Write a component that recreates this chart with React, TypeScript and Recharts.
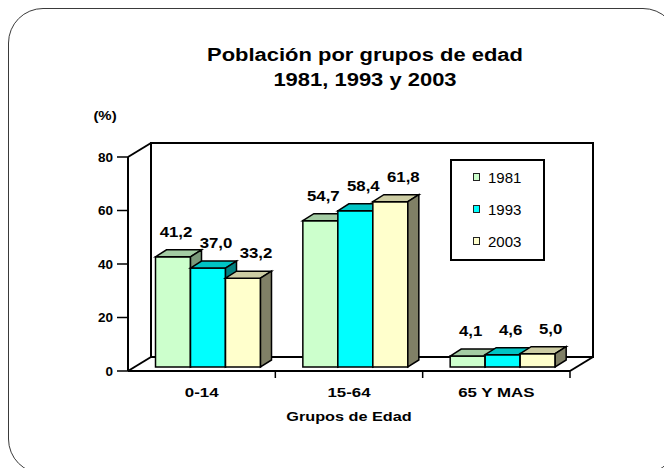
import React from 'react';
import { BarChart, Bar, XAxis, YAxis, Legend, LabelList, ReferenceArea } from 'recharts';

// values (%)
const groups = ['0-14', '15-64', '65 Y MAS'];
const years = ['1981', '1993', '2003'];
const pct1981 = [41.2, 54.7, 4.1];
const pct1993 = [37.0, 58.4, 4.6];
const pct2003 = [33.2, 61.8, 5.0];
const yTicks = [0, 20, 40, 60, 80];

const data = groups.map((g, i) => ({
  grupo: g,
  y1981: pct1981[i],
  y1993: pct1993[i],
  y2003: pct2003[i],
}));

const FONT = '"Liberation Sans", Arial, Helvetica, sans-serif';

const colors: Record<string, { front: string; top: string; side: string }> = {
  y1981: { front: '#CCFFCC', top: '#A3CCA3', side: '#7A997A' },
  y1993: { front: '#00FFFF', top: '#00C4C4', side: '#008080' },
  y2003: { front: '#FFFFCC', top: '#CCCCA3', side: '#808066' },
};

// pseudo 3d offsets
const SHIFT = { x: 6, y: -4 };
const DEPTH = { x: 11, y: -7 };
const WALL = { x: 23, y: -14 };

const fmt = (v: number) => v.toFixed(1).replace('.', ',');

const Box3D = (props: any) => {
  const { x, y, width, height, palette } = props;
  const l = x + SHIFT.x;
  const t = y + SHIFT.y;
  const r = l + width;
  const b = t + height;
  return (
    <g stroke="#000" strokeWidth={1.5} strokeLinejoin="miter">
      <rect x={l} y={t} width={width} height={height} fill={palette.front} />
      <polygon
        points={`${l},${t} ${l + DEPTH.x},${t + DEPTH.y} ${r + DEPTH.x},${t + DEPTH.y} ${r},${t}`}
        fill={palette.top}
      />
      <polygon
        points={`${r},${t} ${r + DEPTH.x},${t + DEPTH.y} ${r + DEPTH.x},${b + DEPTH.y} ${r},${b}`}
        fill={palette.side}
      />
    </g>
  );
};

// back wall + floor drawn from the plot rectangle
const Backdrop = (props: any) => {
  const { x, y, width, height } = props;
  const bx = x + WALL.x;
  const by = y + WALL.y;
  const bottom = y + height;
  const band = width / groups.length;
  return (
    <g stroke="#000" strokeWidth={2} fill="none">
      <rect x={bx} y={by} width={width} height={height} fill="#fff" />
      <line x1={x} y1={y} x2={bx} y2={by} />
      <line x1={x} y1={bottom} x2={bx} y2={bottom + WALL.y} />
      <line x1={x + width} y1={bottom} x2={bx + width} y2={bottom + WALL.y} />
      {groups.map((g, i) => (
        <line
          key={g}
          x1={x + band * (i + 1)}
          y1={bottom}
          x2={x + band * (i + 1)}
          y2={bottom + 7}
          strokeWidth={1.5}
        />
      ))}
    </g>
  );
};

// the original's texts are a little stretched sideways
const Wide = ({ x, y, sx, size, children }: any) => (
  <text
    transform={`translate(${x},${y}) scale(${sx},1)`}
    textAnchor="middle"
    fontFamily={FONT}
    fontSize={size}
    fontWeight={700}
    fill="#000"
  >
    {children}
  </text>
);

// labels spread out a bit more than the bars, like the original
const makeValueLabel = (seriesIdx: number) => (props: any) => {
  const { x, y, width, value } = props;
  return (
    <Wide x={x + SHIFT.x + width / 2 + 3 + seriesIdx * 5} y={y + SHIFT.y - 20} sx={1.12} size={15}>
      {fmt(value)}
    </Wide>
  );
};

const CatTick = (props: any) => {
  const { x, y, payload } = props;
  return (
    <Wide x={x} y={y + 24} sx={1.3} size={13}>
      {payload.value}
    </Wide>
  );
};

const AxisTitle = (props: any) => {
  const { viewBox } = props;
  return (
    <Wide x={viewBox.x + viewBox.width / 2} y={viewBox.y + 50} sx={1.25} size={13}>
      Grupos de Edad
    </Wide>
  );
};

const PctLabel = (props: any) => {
  const { viewBox } = props;
  return (
    <Wide x={viewBox.x + viewBox.width / 2 - 3} y={viewBox.y - 37} sx={1.15} size={13}>
      (%)
    </Wide>
  );
};

const LegendBox = () => (
  <div
    style={{
      width: 95,
      height: 102,
      border: '2px solid #000',
      boxSizing: 'border-box',
      background: '#fff',
      fontFamily: FONT,
      fontSize: 15,
      position: 'relative',
    }}
  >
    {years.map((yr, i) => {
      const c = colors['y' + yr];
      return (
        <div
          key={yr}
          style={{ position: 'absolute', left: 21, top: 7 + i * 32, height: 18, display: 'flex', alignItems: 'center' }}
        >
          <span
            style={{
              display: 'inline-block',
              width: 7,
              height: 8,
              boxSizing: 'border-box',
              background: c.front,
              border: '1.5px solid #222',
              marginRight: 8,
            }}
          />
          <span style={{ color: '#000' }}>{yr}</span>
        </div>
      );
    })}
  </div>
);

export default function App() {
  return (
    <div style={{ position: 'relative', width: 664, height: 460, overflow: 'hidden', background: '#fff' }}>
      <div
        style={{
          position: 'absolute',
          left: 0,
          top: 0,
          width: 670,
          height: 466,
          border: '1.5px solid #3a3a3a',
          borderRadius: 35,
          boxSizing: 'border-box',
        }}
      />
      <div
        style={{
          position: 'absolute',
          left: 357 - 300,
          top: 35,
          width: 600,
          textAlign: 'center',
          fontFamily: FONT,
          fontSize: 18,
          fontWeight: 700,
          lineHeight: '25px',
          color: '#000',
          transform: 'scaleX(1.22)',
        }}
      >
        <div>Población por grupos de edad</div>
        <div>1981, 1993 y 2003</div>
      </div>
      <div style={{ position: 'absolute', left: 0, top: 0 }}>
        <BarChart
          width={664}
          height={460}
          data={data}
          margin={{ top: 149, right: 102, bottom: 67, left: 80 }}
          barCategoryGap="14.6%"
          barGap={0}
        >
          <ReferenceArea y1={0} y2={80} shape={(p: any) => <Backdrop {...p} />} />
          <XAxis
            dataKey="grupo"
            height={30}
            tickLine={false}
            tickSize={0}
            axisLine={{ stroke: '#000', strokeWidth: 2 }}
            tick={<CatTick />}
            interval={0}
            label={{ content: <AxisTitle /> }}
          />
          <YAxis
            type="number"
            domain={[0, 80]}
            ticks={yTicks}
            interval={0}
            width={40}
            tickSize={11}
            tickMargin={4}
            axisLine={{ stroke: '#000', strokeWidth: 2 }}
            tickLine={{ stroke: '#000', strokeWidth: 1.5 }}
            tick={{ fill: '#000', fontSize: 13.5, fontWeight: 700, fontFamily: FONT }}
            label={{ content: <PctLabel /> }}
          />
          <Legend
            layout="vertical"
            align="center"
            verticalAlign="middle"
            content={<LegendBox />}
            wrapperStyle={{ position: 'absolute', left: 442, top: 151, width: 95, height: 102 }}
          />
          {years.map((yr, si) => (
            <Bar
              key={yr}
              dataKey={'y' + yr}
              name={yr}
              fill={colors['y' + yr].front}
              isAnimationActive={false}
              shape={(p: any) => <Box3D {...p} palette={colors['y' + yr]} />}
            >
              <LabelList dataKey={'y' + yr} content={makeValueLabel(si)} />
            </Bar>
          ))}
        </BarChart>
      </div>
    </div>
  );
}
